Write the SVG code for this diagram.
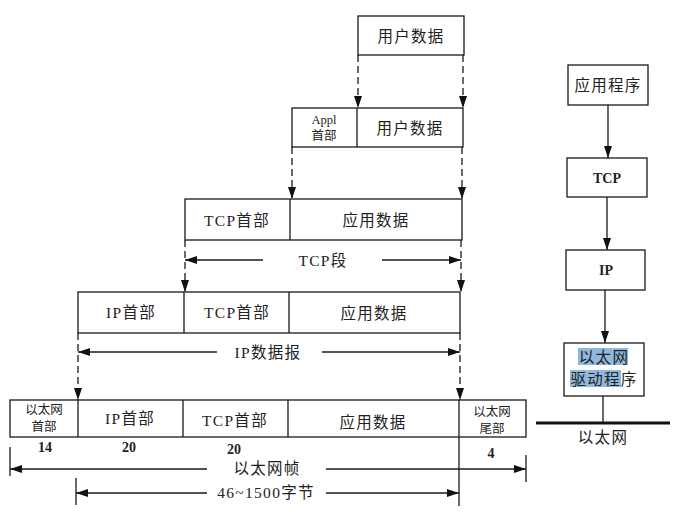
<svg xmlns="http://www.w3.org/2000/svg" width="681" height="512" viewBox="0 0 681 512">
<defs>
<marker id="ah" markerUnits="userSpaceOnUse" markerWidth="13" markerHeight="8" refX="12" refY="4" orient="auto"><path d="M0,0 L12,4 L0,8 z" fill="#111"/></marker>
<style>
.box{fill:#fff;stroke:#1a1a1a;stroke-width:1.3}
.div{stroke:#1a1a1a;stroke-width:1.3}
.dash{stroke:#1a1a1a;stroke-width:1.3;stroke-dasharray:7 4;fill:none}
.ln{stroke:#1a1a1a;stroke-width:1.3;fill:none}
text{font-family:"Liberation Serif","Noto Sans CJK SC",serif;fill:#222;text-anchor:middle;dominant-baseline:central}
.t{font-size:15.5px;letter-spacing:1.3px}
.s{font-size:12.5px}
.b{font-size:14px;font-weight:bold}
</style>
</defs>
<rect width="681" height="512" fill="#fff"/>

<g id="row1">
<rect class="box" x="358" y="16" width="106" height="39"/>
<text class="t" x="411" y="36">用户数据</text>
</g>

<g id="row2">
<rect class="box" x="292" y="108" width="171" height="39"/>
<line class="div" x1="357" y1="108" x2="357" y2="147"/>
<text class="s" x="324" y="120">Appl</text>
<text class="s" x="324" y="136">首部</text>
<text class="t" x="410" y="128">用户数据</text>
</g>

<g id="row3">
<rect class="box" x="185" y="199" width="277" height="41"/>
<line class="div" x1="290" y1="199" x2="290" y2="240"/>
<text class="t" x="237" y="220">TCP首部</text>
<text class="t" x="376" y="220">应用数据</text>
</g>

<g id="row4">
<rect class="box" x="78" y="292" width="382" height="41"/>
<line class="div" x1="184" y1="292" x2="184" y2="333"/>
<line class="div" x1="289" y1="292" x2="289" y2="333"/>
<text class="t" x="131" y="312">IP首部</text>
<text class="t" x="237" y="312">TCP首部</text>
<text class="t" x="374" y="313">应用数据</text>
</g>

<g id="row5">
<rect class="box" x="10" y="400" width="516" height="37"/>
<line class="div" x1="78" y1="400" x2="78" y2="437"/>
<line class="div" x1="183" y1="400" x2="183" y2="437"/>
<line class="div" x1="288" y1="400" x2="288" y2="437"/>
<line class="div" x1="459" y1="400" x2="459" y2="437"/>
<text class="s" x="44" y="410">以太网</text>
<text class="s" x="44" y="427">首部</text>
<text class="t" x="130" y="418">IP首部</text>
<text class="t" x="235" y="420">TCP首部</text>
<text class="t" x="373" y="422">应用数据</text>
<text class="s" x="492" y="412">以太网</text>
<text class="s" x="492" y="429">尾部</text>
<text class="b" x="45" y="447">14</text>
<text class="b" x="129" y="447">20</text>
<text class="b" x="234" y="449">20</text>
<text class="b" x="491" y="453">4</text>
</g>

<g id="stack-app">
<rect class="box" x="568" y="65" width="80" height="40"/>
<text class="t" x="608" y="85">应用程序</text>
</g>
<g id="stack-tcp">
<rect class="box" x="567" y="158" width="80" height="39"/>
<text class="b" x="607" y="178">TCP</text>
</g>
<g id="stack-ip">
<rect class="box" x="566" y="250" width="79" height="40"/>
<text class="b" x="606" y="270">IP</text>
</g>
<g id="stack-driver">
<rect class="box" x="564" y="343" width="80" height="53"/>
<rect x="578" y="348" width="50" height="17" fill="#8fb9de"/>
<rect x="570" y="370" width="51" height="17" fill="#8fb9de"/>
<text class="t" x="604" y="357">以太网</text>
<text class="t" x="604" y="379">驱动程序</text>
</g>
<g id="ethernet">
<line x1="536" y1="423" x2="670" y2="423" stroke="#111" stroke-width="3"/>
<text class="t" x="603" y="437">以太网</text>
</g>

<g id="connectors">
<line class="dash" x1="358" y1="55" x2="358" y2="108" marker-end="url(#ah)"/>
<line class="dash" x1="463" y1="55" x2="463" y2="108" marker-end="url(#ah)"/>
<line class="dash" x1="292" y1="147" x2="292" y2="199" marker-end="url(#ah)"/>
<line class="dash" x1="462" y1="147" x2="462" y2="199" marker-end="url(#ah)"/>
<line class="dash" x1="185" y1="240" x2="185" y2="292" marker-end="url(#ah)"/>
<line class="dash" x1="461" y1="240" x2="461" y2="292" marker-end="url(#ah)"/>
<line class="dash" x1="78" y1="333" x2="78" y2="400" marker-end="url(#ah)"/>
<line class="dash" x1="460" y1="333" x2="460" y2="400" marker-end="url(#ah)"/>

<line class="ln" x1="263" y1="260" x2="185" y2="260" marker-end="url(#ah)"/>
<line class="ln" x1="382" y1="260" x2="461" y2="260" marker-end="url(#ah)"/>
<text class="t" x="323" y="260">TCP段</text>

<line class="ln" x1="217" y1="352" x2="78" y2="352" marker-end="url(#ah)"/>
<line class="ln" x1="322" y1="352" x2="460" y2="352" marker-end="url(#ah)"/>
<text class="t" x="268" y="352">IP数据报</text>

<line class="ln" x1="10" y1="447" x2="10" y2="476"/>
<line class="ln" x1="526" y1="455" x2="526" y2="482"/>
<line class="ln" x1="207" y1="469" x2="10" y2="469" marker-end="url(#ah)"/>
<line class="ln" x1="326" y1="469" x2="526" y2="469" marker-end="url(#ah)"/>
<text class="t" x="267" y="468">以太网帧</text>

<line class="ln" x1="76" y1="478" x2="76" y2="505"/>
<line class="ln" x1="459" y1="437" x2="459" y2="506"/>
<line class="ln" x1="207" y1="493" x2="76" y2="493" marker-end="url(#ah)"/>
<line class="ln" x1="326" y1="493" x2="459" y2="493" marker-end="url(#ah)"/>
<text class="t" x="266" y="492">46~1500字节</text>

<line class="ln" x1="608" y1="105" x2="608" y2="158" marker-end="url(#ah)"/>
<line class="ln" x1="607" y1="197" x2="607" y2="250" marker-end="url(#ah)"/>
<line class="ln" x1="605" y1="290" x2="605" y2="343" marker-end="url(#ah)"/>
<line class="ln" x1="603" y1="396" x2="603" y2="423"/>
</g>
</svg>
